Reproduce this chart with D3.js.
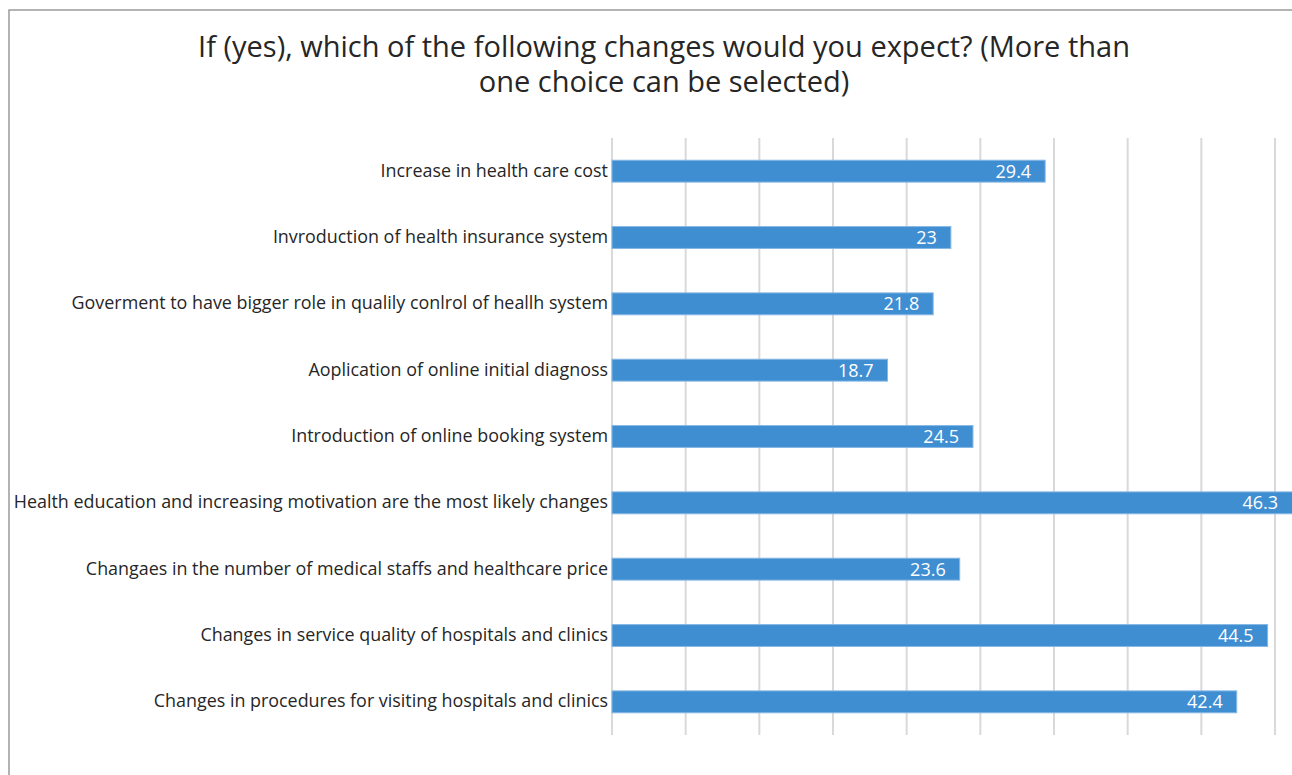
<!DOCTYPE html>
<html>
<head>
<meta charset="utf-8">
<script src="https://cdn.jsdelivr.net/npm/d3@7"></script>
<style>
  body { margin: 0; background: #fff; }
  text { font-family: "Open Sans", sans-serif; }
</style>
</head>
<body>
<script>
// chart data
const categories = [
  "Increase in health care cost",
  "Invroduction of health insurance system",
  "Goverment to have bigger role in qualily conlrol of heallh system",
  "Aoplication of online initial diagnoss",
  "Introduction of online booking system",
  "Health education and increasing motivation are the most likely changes",
  "Changaes in the number of medical staffs and healthcare price",
  "Changes in service quality of hospitals and clinics",
  "Changes in procedures for visiting hospitals and clinics"
];
const values = [29.4, 23, 21.8, 18.7, 24.5, 46.3, 23.6, 44.5, 42.4];
const gridTicks = [0, 5, 10, 15, 20, 25, 30, 35, 40, 45];
const titleLines = [
  "If (yes), which of the following changes would you expect? (More than",
  "one choice can be selected)"
];

const width = 1292, height = 775;
const plotLeft = 612, plotTop = 138, plotBottom = 735;

const svg = d3.select('body').append('svg')
  .attr('width', width)
  .attr('height', height);

// frame
svg.append('path')
  .attr('d', `M9,${height} V10 H${width}`)
  .attr('fill', 'none')
  .attr('stroke', '#9a9a9a')
  .attr('stroke-width', 1.5);

// title
svg.append('g').selectAll('text')
  .data(titleLines)
  .enter().append('text')
  .attr('x', 664)
  .attr('y', (d, i) => 57 + i * 35)
  .attr('text-anchor', 'middle')
  .attr('font-size', 29)
  .attr('fill', '#262626')
  .text(d => d);

const x = d3.scaleLinear().domain([0, 45]).range([plotLeft, 1275]);
const y = d3.scaleBand()
  .domain(categories)
  .range([plotTop, plotBottom])
  .paddingInner(0.67)
  .paddingOuter(0.335);

// gridlines
svg.append('g').selectAll('line')
  .data(gridTicks)
  .enter().append('line')
  .attr('x1', d => x(d))
  .attr('x2', d => x(d))
  .attr('y1', plotTop)
  .attr('y2', plotBottom)
  .attr('stroke', '#d9d9d9')
  .attr('stroke-width', 2);

// bars
svg.append('g').selectAll('rect')
  .data(values)
  .enter().append('rect')
  .attr('x', x(0))
  .attr('y', (d, i) => y(categories[i]))
  .attr('width', d => x(d) - x(0))
  .attr('height', y.bandwidth())
  .attr('fill', '#3f8ed2')
  .attr('stroke', '#86b8e4')
  .attr('stroke-width', 1);

// value labels
svg.append('g').selectAll('text')
  .data(values)
  .enter().append('text')
  .attr('x', d => Math.min(x(d), width) - 14)
  .attr('y', (d, i) => y(categories[i]) + y.bandwidth() / 2)
  .attr('dy', '0.36em')
  .attr('text-anchor', 'end')
  .attr('font-size', 18)
  .attr('fill', '#fff')
  .text(d => d);

// category labels
svg.append('g').selectAll('text')
  .data(categories)
  .enter().append('text')
  .attr('x', plotLeft - 4)
  .attr('y', d => y(d) + y.bandwidth() / 2)
  .attr('dy', '0.3em')
  .attr('text-anchor', 'end')
  .attr('font-size', 17.9)
  .attr('fill', '#262626')
  .text(d => d);
</script>
</body>
</html>
